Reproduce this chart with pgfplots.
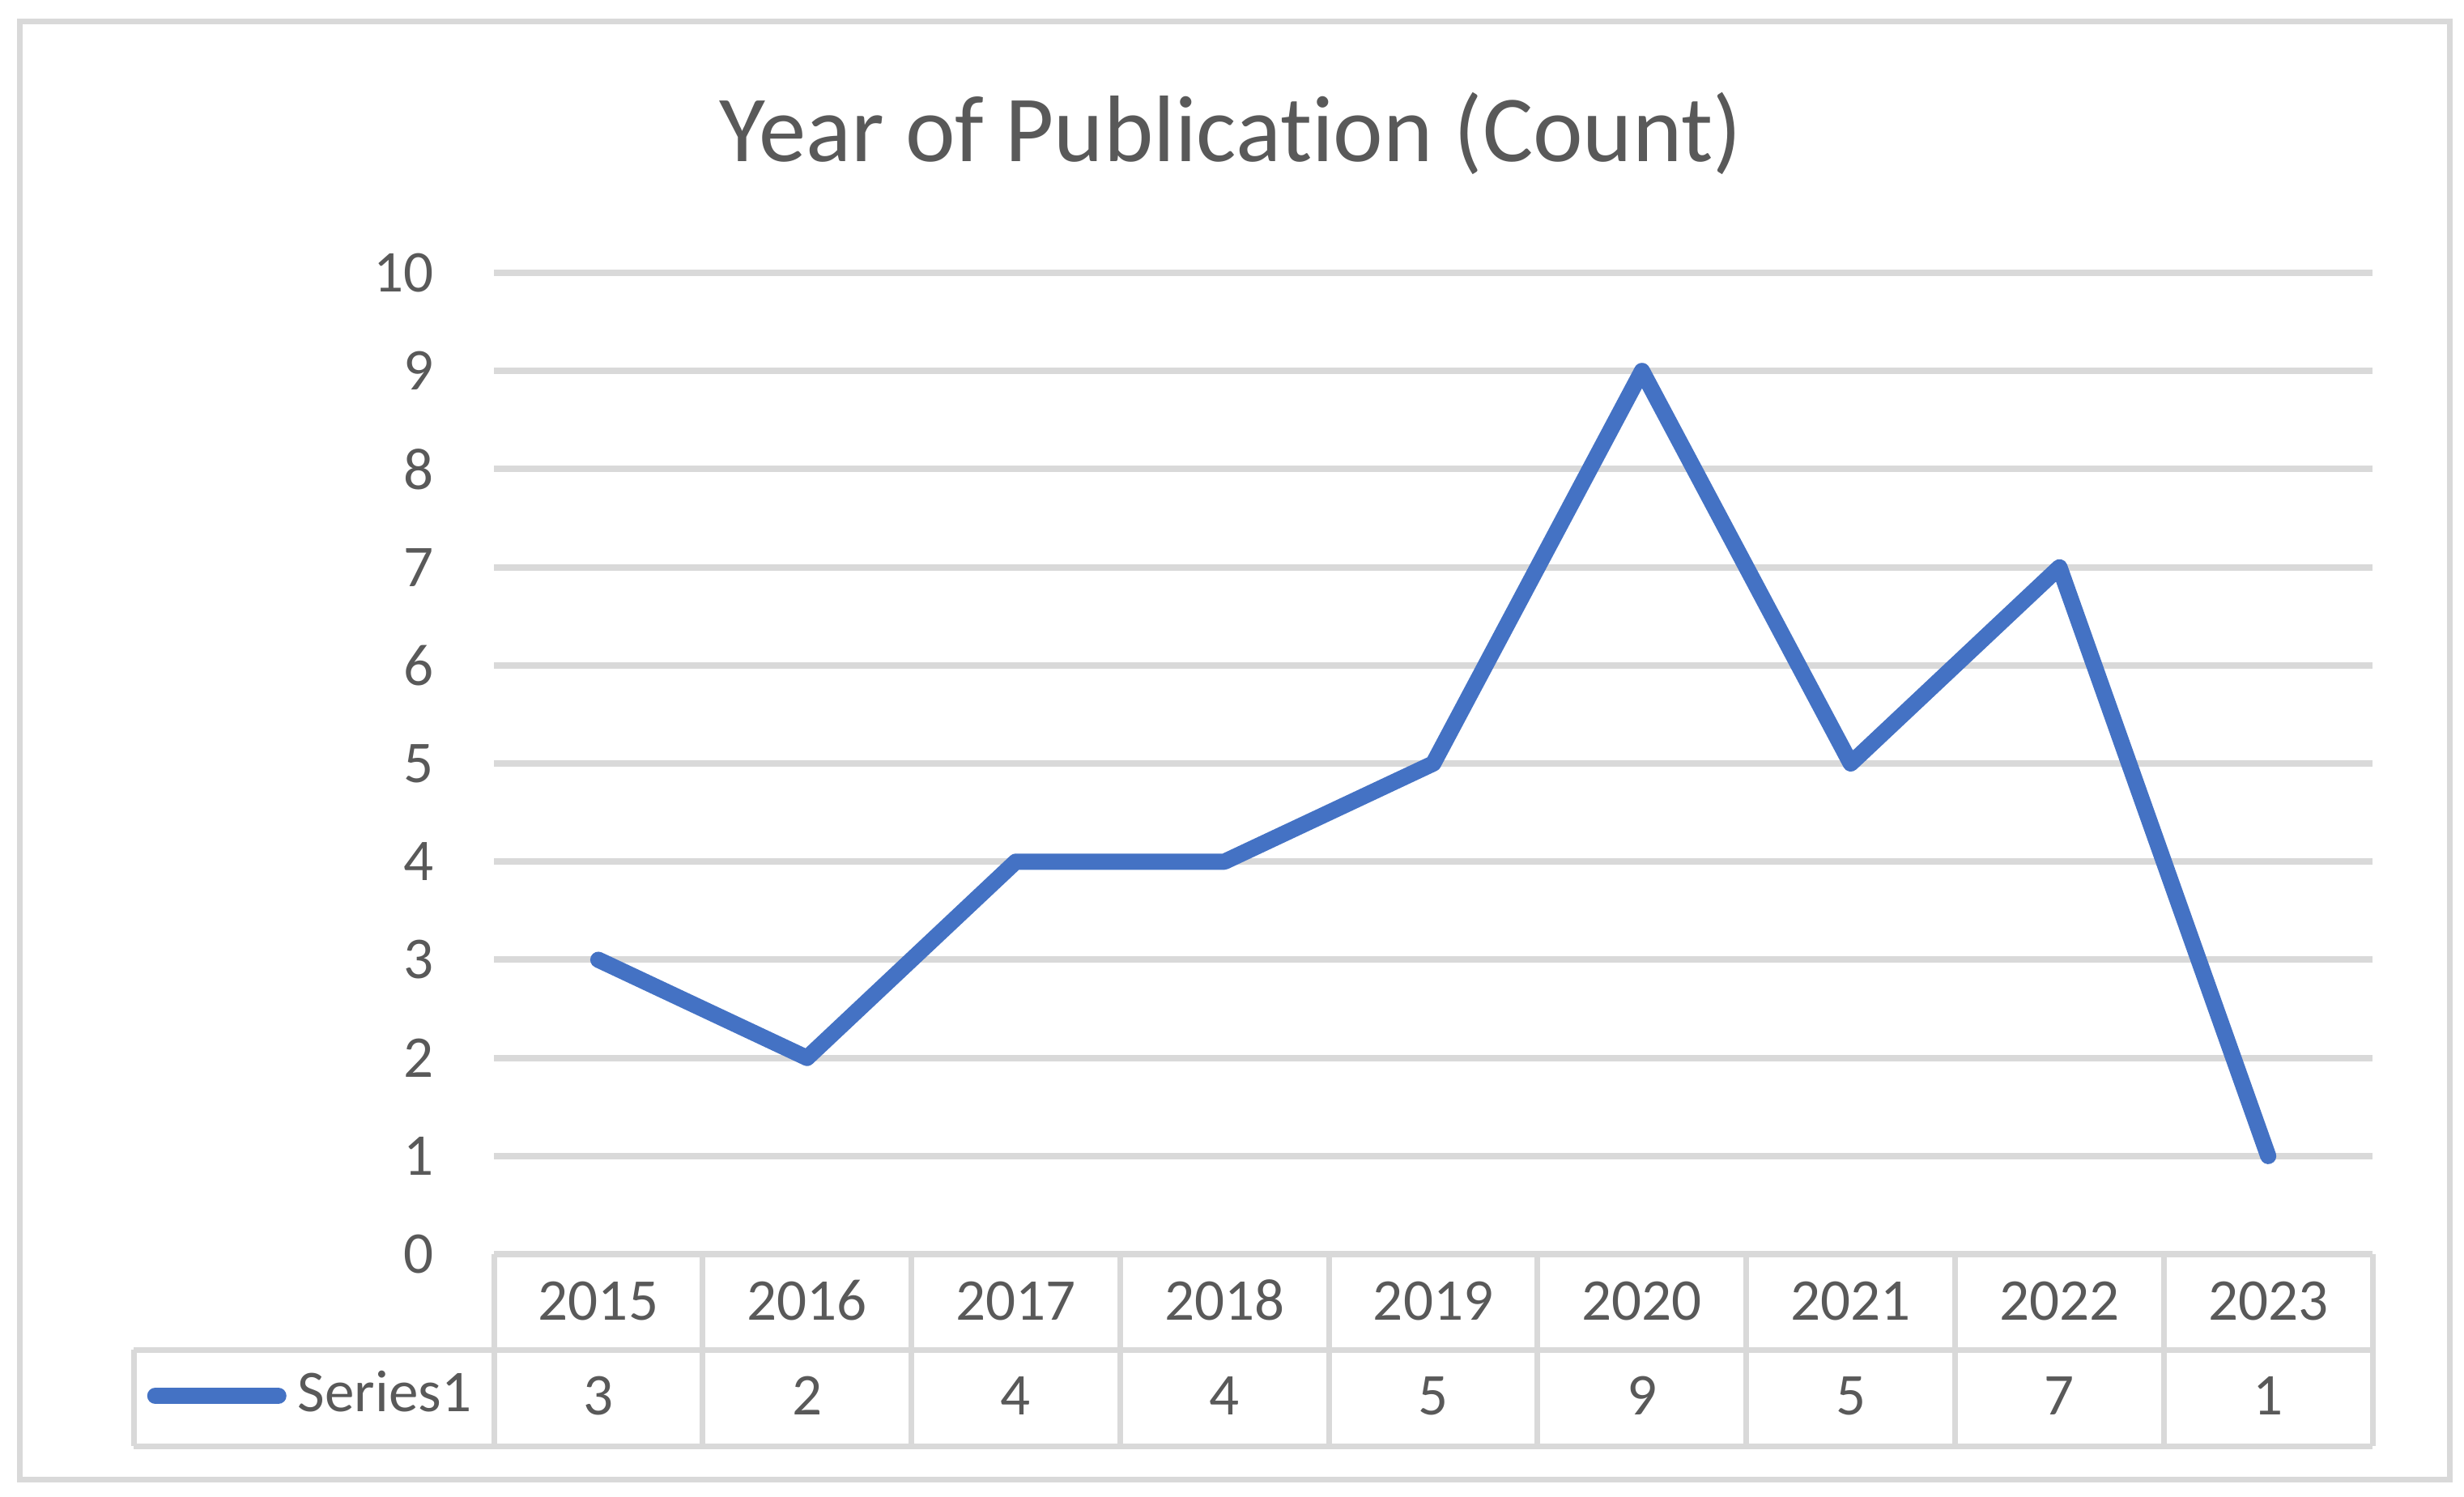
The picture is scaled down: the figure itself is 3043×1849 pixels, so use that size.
\documentclass[border=0pt]{standalone}
\usepackage{fontspec}
\setmainfont{Carlito}[Ligatures=NoCommon]
\usepackage{pgfplots}
\pgfplotsset{compat=1.18}
\definecolor{txtgray}{HTML}{595959}
\definecolor{gridgray}{HTML}{D9D9D9}
\definecolor{seriesblue}{HTML}{4472C4}
\newcommand{\yr}[2]{\vphantom{0123456789}#1\\#2}

\begin{document}
\begin{tikzpicture}[x=0.05mm,y=-0.05mm]
\path[use as bounding box] (0,0) rectangle (3043,1849);
\draw[gridgray, line width=0.35mm] (24,27) rectangle (3025,1827);
\node[anchor=base, text=txtgray, inner sep=0pt, font=\fontsize{16.6}{19}\selectfont] at (1520,200) {Year of Publication (Count)};

\begin{axis}[
  at={(30.5mm,-77.45mm)}, anchor=south west,
  scale only axis, width=116mm, height=60.6mm,
  xmin=-0.5, xmax=8.5, ymin=0, ymax=10,
  clip=false,
  xtick={0,1,2,3,4,5,6,7,8},
  xticklabels={{\yr{2015}{3}},{\yr{2016}{2}},{\yr{2017}{4}},{\yr{2018}{4}},{\yr{2019}{5}},{\yr{2020}{9}},{\yr{2021}{5}},{\yr{2022}{7}},{\yr{2023}{1}}},
  ytick={0,1,2,3,4,5,6,7,8,9,10},
  yticklabels={0,1,2,3,4,5,6,7,8,9,10},
  axis line style={draw=none},
  major tick length=0pt,
  ymajorgrids=true,
  major grid style={gridgray, line width=0.4mm},
  xticklabel style={align=center, anchor=north, inner sep=0pt, yshift=-1.5mm,
    font=\fontsize{10.4}{16.6}\selectfont, text=txtgray},
  yticklabel style={anchor=east, inner sep=0pt, xshift=-3.65mm,
    font=\fontsize{10.4}{12}\selectfont, text=txtgray},
  legend style={at={(-0.1852,-0.1444)}, anchor=west, draw=none, fill=none,
    inner sep=0pt, font=\fontsize{10.4}{12}\selectfont, text=txtgray},
  legend image code/.code={\draw[#1, line cap=round] (0mm,0mm) -- (7.6mm,0mm);},
]
\addplot[seriesblue, line width=1mm, line join=round, line cap=round, mark=none]
  coordinates {(0,3) (1,2) (2,4) (3,4) (4,5) (5,9) (6,5) (7,7) (8,1)};
\addlegendentry{Series1}
\end{axis}

% data table frame
\draw[gridgray, line width=0.35mm]
  (165,1667) -- (2930,1667)
  (165,1786) -- (2930,1786)
  (165,1667) -- (165,1786);
\foreach \k in {0,...,9} {
  \draw[gridgray, line width=0.35mm] ({610+257.78*\k},1549) -- ({610+257.78*\k},1786);
}
\end{tikzpicture}
\end{document}
